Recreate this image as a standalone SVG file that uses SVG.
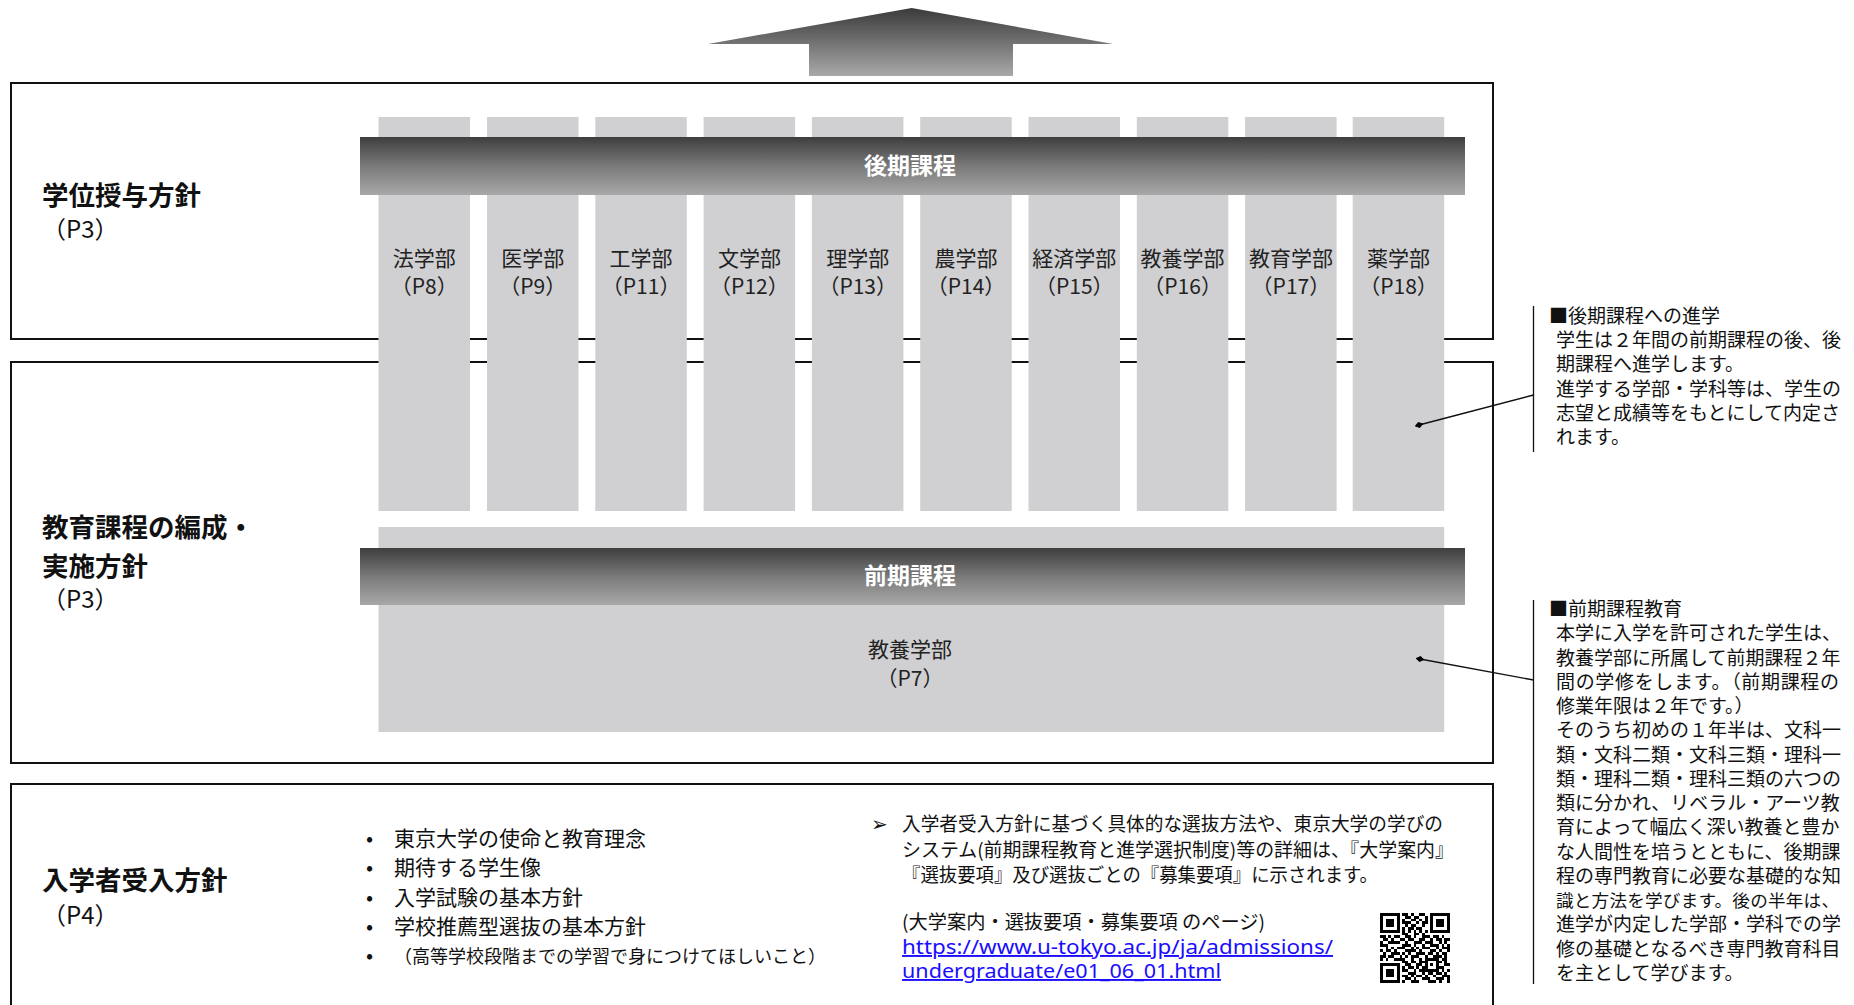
<svg xmlns="http://www.w3.org/2000/svg" width="1854" height="1005" viewBox="0 0 1854 1005">
<defs>
<linearGradient id="gband" x1="0" y1="0" x2="0" y2="1">
<stop offset="0" stop-color="#3e3e3e"/>
<stop offset="0.5" stop-color="#7a7a7a"/>
<stop offset="1" stop-color="#a8a8a8"/>
</linearGradient>
<linearGradient id="garrow" x1="0" y1="0" x2="0" y2="1">
<stop offset="0" stop-color="#3a3a3a"/>
<stop offset="1" stop-color="#a9a9a9"/>
</linearGradient>
<marker id="dia" viewBox="0 0 10 10" refX="5" refY="5" markerWidth="9" markerHeight="9" markerUnits="userSpaceOnUse" orient="auto">
<path d="M0 5L5 1.5L10 5L5 8.5Z" fill="#000"/>
</marker>
<path id="finder" d="M0 0h7v7h-7zM1 1v5h5v-5zM2 2h3v3h-3z" fill-rule="evenodd"/>
</defs>
<style>
.box{fill:none;stroke:#111;stroke-width:2}
.col{fill:#d0cfd1}
.jp{font-family:"Noto Sans CJK JP","Noto Sans",sans-serif;fill:#111}
.h{font-size:26.5px;font-weight:bold}
.p{font-size:24px}
.cl{font-size:21px;fill:#222;text-anchor:middle}
.band{font-size:23px;font-weight:bold;fill:#fff;text-anchor:middle}
.note{font-size:19px}
.b1{font-size:21px}
.b2{font-size:18px}
.r{font-size:19px}
.url{font-family:"Noto Sans","DejaVu Sans",sans-serif;font-size:19px;fill:#1a0dff;text-decoration:underline}
.ln{stroke:#111;stroke-width:1.3;fill:none}
</style>

<g id="up-arrow">
<polygon points="911.7,8 1113,44 1013,44 1013,76 809,76 809,44 708,44" fill="url(#garrow)"/>
</g>

<g id="box-degree">
<rect class="box" x="11" y="83" width="1482" height="256"/>
<text class="jp h" x="42" y="205">学位授与方針</text>
<text class="jp p" x="42" y="238">（P3）</text>
</g>
<g id="box-curriculum">
<rect class="box" x="11" y="362" width="1482" height="401"/>
<text class="jp h" x="42" y="537">教育課程の編成・</text>
<text class="jp h" x="42" y="575.5">実施方針</text>
<text class="jp p" x="42" y="608">（P3）</text>
</g>
<g id="box-admission">
<rect class="box" x="11" y="784" width="1482" height="240"/>
<text class="jp h" x="42" y="890">入学者受入方針</text>
<text class="jp p" x="42" y="924">（P4）</text>
</g>

<g id="faculties">
<rect class="col" x="378.5" y="117" width="91.5" height="394"/>
<rect class="col" x="487" y="117" width="91.5" height="394"/>
<rect class="col" x="595.3" y="117" width="91.5" height="394"/>
<rect class="col" x="703.6" y="117" width="91.5" height="394"/>
<rect class="col" x="811.9" y="117" width="91.5" height="394"/>
<rect class="col" x="920.2" y="117" width="91.5" height="394"/>
<rect class="col" x="1028.5" y="117" width="91.5" height="394"/>
<rect class="col" x="1136.8" y="117" width="91.5" height="394"/>
<rect class="col" x="1245.1" y="117" width="91.5" height="394"/>
<rect class="col" x="1352.7" y="117" width="91.5" height="394"/>
</g>
<g id="col-labels" class="jp">
<text class="jp cl" x="424.3" y="265.5">法学部</text><text class="jp cl" x="424.3" y="294">（P8）</text>
<text class="jp cl" x="532.8" y="265.5">医学部</text><text class="jp cl" x="532.8" y="294">（P9）</text>
<text class="jp cl" x="641.1" y="265.5">工学部</text><text class="jp cl" x="641.1" y="294">（P11）</text>
<text class="jp cl" x="749.4" y="265.5">文学部</text><text class="jp cl" x="749.4" y="294">（P12）</text>
<text class="jp cl" x="857.7" y="265.5">理学部</text><text class="jp cl" x="857.7" y="294">（P13）</text>
<text class="jp cl" x="966" y="265.5">農学部</text><text class="jp cl" x="966" y="294">（P14）</text>
<text class="jp cl" x="1074.3" y="265.5">経済学部</text><text class="jp cl" x="1074.3" y="294">（P15）</text>
<text class="jp cl" x="1182.6" y="265.5">教養学部</text><text class="jp cl" x="1182.6" y="294">（P16）</text>
<text class="jp cl" x="1290.9" y="265.5">教育学部</text><text class="jp cl" x="1290.9" y="294">（P17）</text>
<text class="jp cl" x="1398.5" y="265.5">薬学部</text><text class="jp cl" x="1398.5" y="294">（P18）</text>
</g>
<g id="band-later">
<rect x="360" y="137" width="1105" height="58" fill="url(#gband)"/>
<text class="jp band" x="910" y="173.5">後期課程</text>
</g>

<g id="junior-division">
<rect class="col" x="378.5" y="527" width="1065.7" height="205"/>
<text class="jp cl" x="910" y="657">教養学部</text>
<text class="jp cl" x="910" y="685.5">（P7）</text>
</g>
<g id="band-early">
<rect x="360" y="548" width="1105" height="57" fill="url(#gband)"/>
<text class="jp band" x="910" y="584">前期課程</text>
</g>

<g id="admission-list" class="jp">
<text class="jp b1" x="366" y="845.5">•</text><text class="jp b1" x="394" y="845.5">東京大学の使命と教育理念</text>
<text class="jp b1" x="366" y="875">•</text><text class="jp b1" x="394" y="875">期待する学生像</text>
<text class="jp b1" x="366" y="904.5">•</text><text class="jp b1" x="394" y="904.5">入学試験の基本方針</text>
<text class="jp b1" x="366" y="934">•</text><text class="jp b1" x="394" y="934">学校推薦型選抜の基本方針</text>
<text class="jp b1" x="366" y="963">•</text><text class="jp b2" x="394" y="962.5">（高等学校段階までの学習で身につけてほしいこと）</text>
</g>

<g id="admission-info">
<text class="jp r" x="871" y="831" style="font-size:20px;font-family:'DejaVu Sans','Noto Sans CJK JP',sans-serif">➢</text>
<text class="jp r" x="902" y="831" textLength="541" lengthAdjust="spacingAndGlyphs">入学者受入方針に基づく具体的な選抜方法や、東京大学の学びの</text>
<text class="jp r" x="902" y="857" textLength="552" lengthAdjust="spacingAndGlyphs">システム(前期課程教育と進学選択制度)等の詳細は、『大学案内』</text>
<text class="jp r" x="902" y="882" textLength="476" lengthAdjust="spacingAndGlyphs">『選抜要項』及び選抜ごとの『募集要項』に示されます。</text>
<text class="jp r" x="902" y="929" textLength="363" lengthAdjust="spacingAndGlyphs">(大学案内・選抜要項・募集要項 のページ)</text>
<text class="url" x="902" y="954" textLength="431" lengthAdjust="spacingAndGlyphs">https://www.u-tokyo.ac.jp/ja/admissions/</text>
<text class="url" x="902" y="978" textLength="319" lengthAdjust="spacingAndGlyphs">undergraduate/e01_06_01.html</text>
</g>

<g id="qr" transform="translate(1380,913) scale(2.8)" shape-rendering="crispEdges" fill="#000">
<use href="#finder"/>
<use href="#finder" x="18"/>
<use href="#finder" y="18"/>
<path d="M8 0h2v1h-2zM11 0h1v1h-1zM14 0h2v1h-2z
M9 1h2v1h-2zM12 1h2v1h-2zM16 1h1v1h-1z
M8 2h1v1h-1zM11 2h2v1h-2zM14 2h1v1h-1zM16 2h1v1h-1z
M8 3h3v1h-3zM13 3h1v1h-1zM15 3h2v1h-2z
M9 4h1v1h-1zM11 4h2v1h-2zM15 4h1v1h-1z
M8 5h1v1h-1zM10 5h2v1h-2zM13 5h2v1h-2z
M8 6h1v1h-1zM10 6h1v1h-1zM12 6h1v1h-1zM14 6h1v1h-1zM16 6h1v1h-1z
M8 7h2v1h-2zM12 7h2v1h-2zM15 7h1v1h-1z
M0 8h2v1h-2zM3 8h1v1h-1zM5 8h2v1h-2zM9 8h2v1h-2zM12 8h1v1h-1zM15 8h3v1h-3zM19 8h2v1h-2zM22 8h1v1h-1z
M1 9h2v1h-2zM4 9h1v1h-1zM7 9h2v1h-2zM10 9h2v1h-2zM14 9h2v1h-2zM18 9h1v1h-1zM20 9h2v1h-2zM23 9h2v1h-2z
M0 10h1v1h-1zM3 10h4v1h-4zM9 10h1v1h-1zM12 10h3v1h-3zM16 10h3v1h-3zM21 10h1v1h-1zM23 10h1v1h-1z
M0 11h3v1h-3zM8 11h3v1h-3zM12 11h1v1h-1zM15 11h1v1h-1zM18 11h3v1h-3zM22 11h1v1h-1zM24 11h1v1h-1z
M2 12h1v1h-1zM4 12h1v1h-1zM6 12h3v1h-3zM11 12h1v1h-1zM13 12h1v1h-1zM15 12h3v1h-3zM20 12h1v1h-1zM22 12h3v1h-3z
M0 13h1v1h-1zM2 13h2v1h-2zM5 13h1v1h-1zM9 13h4v1h-4zM14 13h1v1h-1zM18 13h2v1h-2zM21 13h1v1h-1zM24 13h1v1h-1z
M1 14h1v1h-1zM4 14h3v1h-3zM8 14h1v1h-1zM10 14h1v1h-1zM13 14h3v1h-3zM17 14h2v1h-2zM20 14h1v1h-1zM22 14h2v1h-2z
M0 15h2v1h-2zM3 15h2v1h-2zM7 15h1v1h-1zM9 15h1v1h-1zM11 15h3v1h-3zM16 15h1v1h-1zM19 15h3v1h-3zM23 15h1v1h-1z
M0 16h1v1h-1zM2 16h1v1h-1zM5 16h4v1h-4zM11 16h1v1h-1zM14 16h1v1h-1zM16 16h5v1h-5zM22 16h2v1h-2z
M8 17h2v1h-2zM11 17h2v1h-2zM14 17h3v1h-3zM20 17h2v1h-2zM23 17h1v1h-1z
M9 18h2v1h-2zM13 18h2v1h-2zM16 18h1v1h-1zM18 18h1v1h-1zM20 18h1v1h-1zM23 18h2v1h-2z
M8 19h1v1h-1zM10 19h2v1h-2zM13 19h1v1h-1zM15 19h2v1h-2zM20 19h3v1h-3z
M8 20h2v1h-2zM12 20h1v1h-1zM14 20h7v1h-7zM22 20h1v1h-1zM24 20h1v1h-1z
M10 21h3v1h-3zM15 21h1v1h-1zM17 21h2v1h-2zM20 21h2v1h-2zM23 21h1v1h-1z
M8 22h2v1h-2zM11 22h1v1h-1zM13 22h2v1h-2zM16 22h1v1h-1zM19 22h1v1h-1zM22 22h3v1h-3z
M9 23h2v1h-2zM12 23h1v1h-1zM15 23h3v1h-3zM20 23h3v1h-3zM24 23h1v1h-1z
M8 24h1v1h-1zM11 24h3v1h-3zM17 24h3v1h-3zM21 24h1v1h-1zM24 24h1v1h-1z"/>
</g>

<g id="note-later">
<text class="jp note" x="1549" y="322.5">■後期課程への進学</text>
<text class="jp note" x="1556" y="347">学生は２年間の前期課程の後、後</text>
<text class="jp note" x="1556" y="371.3">期課程へ進学します。</text>
<text class="jp note" x="1556" y="395.6">進学する学部・学科等は、学生の</text>
<text class="jp note" x="1556" y="420">志望と成績等をもとにして内定さ</text>
<text class="jp note" x="1556" y="444.3">れます。</text>
</g>
<g id="note-early">
<text class="jp note" x="1549" y="616">■前期課程教育</text>
<text class="jp note" x="1556" y="640.3">本学に入学を許可された学生は、</text>
<text class="jp note" x="1556" y="664.5">教養学部に所属して前期課程２年</text>
<text class="jp note" x="1556" y="688.8" textLength="283" lengthAdjust="spacing">間の学修をします。（前期課程の</text>
<text class="jp note" x="1556" y="713">修業年限は２年です。）</text>
<text class="jp note" x="1556" y="737.3">そのうち初めの１年半は、文科一</text>
<text class="jp note" x="1556" y="761.5">類・文科二類・文科三類・理科一</text>
<text class="jp note" x="1556" y="785.8">類・理科二類・理科三類の六つの</text>
<text class="jp note" x="1556" y="810">類に分かれ、リベラル・アーツ教</text>
<text class="jp note" x="1556" y="834.3">育によって幅広く深い教養と豊か</text>
<text class="jp note" x="1556" y="858.5">な人間性を培うとともに、後期課</text>
<text class="jp note" x="1556" y="882.8">程の専門教育に必要な基礎的な知</text>
<text class="jp note" x="1556" y="907" style="font-size:17.6px" textLength="283" lengthAdjust="spacing">識と方法を学びます。後の半年は、</text>
<text class="jp note" x="1556" y="931.3">進学が内定した学部・学科での学</text>
<text class="jp note" x="1556" y="955.5">修の基礎となるべき専門教育科目</text>
<text class="jp note" x="1556" y="979.8">を主として学びます。</text>
</g>

<g id="connectors">
<line class="ln" x1="1533.5" y1="306" x2="1533.5" y2="452"/>
<line class="ln" x1="1533.5" y1="395" x2="1419" y2="425" marker-end="url(#dia)"/>
<line class="ln" x1="1533.5" y1="600" x2="1533.5" y2="984"/>
<line class="ln" x1="1533.5" y1="680" x2="1420" y2="659" marker-end="url(#dia)"/>
</g>
</svg>
